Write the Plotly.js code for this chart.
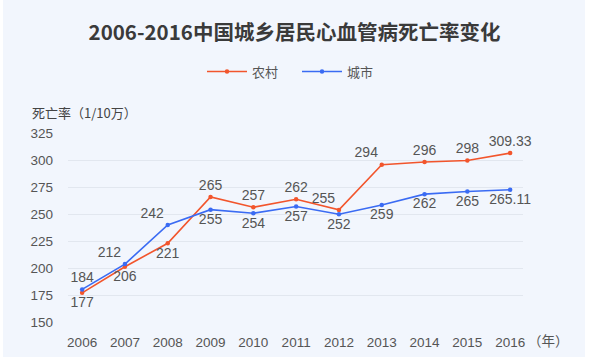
<!DOCTYPE html>
<html>
<head>
<meta charset="utf-8">
<script src="https://cdn.plot.ly/plotly-3.0.1.min.js"></script>
<style>
  html, body { margin: 0; padding: 0; background: #ffffff; }
  #panel { position: absolute; left: 3px; top: 0px; width: 582px; height: 357px; background: #F2F6FD; }
  #chart { position: absolute; left: 0; top: 0; width: 589px; height: 360px; }
</style>
</head>
<body>
<div id="panel"></div>
<div id="chart"></div>
<script>
// Categories (years)
const years = ['2006','2007','2008','2009','2010','2011','2012','2013','2014','2015','2016'];
// Rural (农村) values as plotted in the picture, and their printed labels
const ruralValues = [177, 201.2, 222.9, 265.8, 256.3, 263.7, 253.8, 295.6, 298.1, 299.6, 306.4];
const ruralLabels = ['177','206','221','265','257','262','255','294','296','298','309.33'];
// Urban (城市) values as plotted in the picture, and their printed labels
const urbanValues = [180.2, 203.6, 239.9, 254, 250.7, 256.9, 249.8, 258.4, 268.4, 270.8, 272.4];
const urbanLabels = ['184','212','242','255','254','257','252','259','262','265','265.11'];
// Y tick values
const yTicks = [150, 175, 200, 225, 250, 275, 300, 325];

const ruralPos = ['bottom center','bottom center','bottom center','top center','top center','top center','top left','top left','top center','top center','top center'];
const urbanPos = ['top center','top left','top left','bottom center','bottom center','bottom center','bottom center','bottom center','bottom center','bottom center','bottom center'];

const FONT = 'Liberation Sans, Noto Sans CJK SC, sans-serif';
const CJK = 'Noto Sans CJK SC, sans-serif';
const RED = '#F2552C';
const BLUE = '#3A6BF3';

const traces = [
  {
    x: years, y: ruralValues, name: '农村', type: 'scatter', mode: 'lines+markers+text',
    text: ruralLabels, textposition: ruralPos,
    textfont: {family: FONT, size: 14, color: '#555555'},
    line: {color: RED, width: 1.6}, marker: {color: RED, size: 4.5},
    cliponaxis: false, hoverinfo: 'skip'
  },
  {
    x: years, y: urbanValues, name: '城市', type: 'scatter', mode: 'lines+markers+text',
    text: urbanLabels, textposition: urbanPos,
    textfont: {family: FONT, size: 14, color: '#555555'},
    line: {color: BLUE, width: 1.6}, marker: {color: BLUE, size: 4.5},
    cliponaxis: false, hoverinfo: 'skip'
  }
];

const layout = {
  width: 589, height: 360,
  margin: {l: 68, r: 66, t: 133, b: 38, pad: 0},
  paper_bgcolor: 'rgba(0,0,0,0)',
  plot_bgcolor: 'rgba(0,0,0,0)',
  font: {family: FONT, color: '#555555', size: 13.5},
  title: {
    text: '2006-2016中国城乡居民心血管病死亡率变化',
    font: {family: CJK, size: 20.5, color: '#3a3a3a', weight: 'bold'},
    x: 0.5, xref: 'container', xanchor: 'center',
    y: 1 - 33/360, yref: 'container', yanchor: 'middle'
  },
  showlegend: true,
  legend: {
    orientation: 'h', x: (202 - 68) / 455, xanchor: 'left',
    y: (321.7 - 72) / 188.4, yanchor: 'middle',
    font: {family: CJK, size: 13, color: '#555555'},
    bgcolor: 'rgba(0,0,0,0)', itemwidth: 40,
    entrywidth: 40, entrywidthmode: 'pixels'
  },
  xaxis: {
    type: 'category', range: [-0.33, 10.3],
    showgrid: false, zeroline: false, showline: false,
    ticks: '', ticklabelstandoff: 10,
    tickfont: {family: FONT, size: 13.5, color: '#555555'},
    fixedrange: true
  },
  yaxis: {
    range: [150, 325], tickvals: yTicks,
    showgrid: true, gridcolor: '#E2E7EF', gridwidth: 1,
    zeroline: false, showline: false, ticks: '',
    ticklabelstandoff: 14,
    tickfont: {family: FONT, size: 13.5, color: '#555555'},
    fixedrange: true
  },
  annotations: [
    {
      text: '死亡率（1/10万）', xref: 'paper', yref: 'paper',
      x: (30 - 68) / 455, xanchor: 'left', y: (321.7 - 113) / 188.4, yanchor: 'middle',
      showarrow: false, font: {family: CJK, size: 13, color: '#444444'}
    },
    {
      text: '（年）', xref: 'paper', yref: 'paper',
      x: (526 - 68) / 455, xanchor: 'left', y: (321.7 - 340) / 188.4, yanchor: 'middle',
      showarrow: false, font: {family: CJK, size: 13.5, color: '#555555'}
    }
  ]
};

Plotly.newPlot('chart', traces, layout, {displayModeBar: false, staticPlot: true});
</script>
</body>
</html>
